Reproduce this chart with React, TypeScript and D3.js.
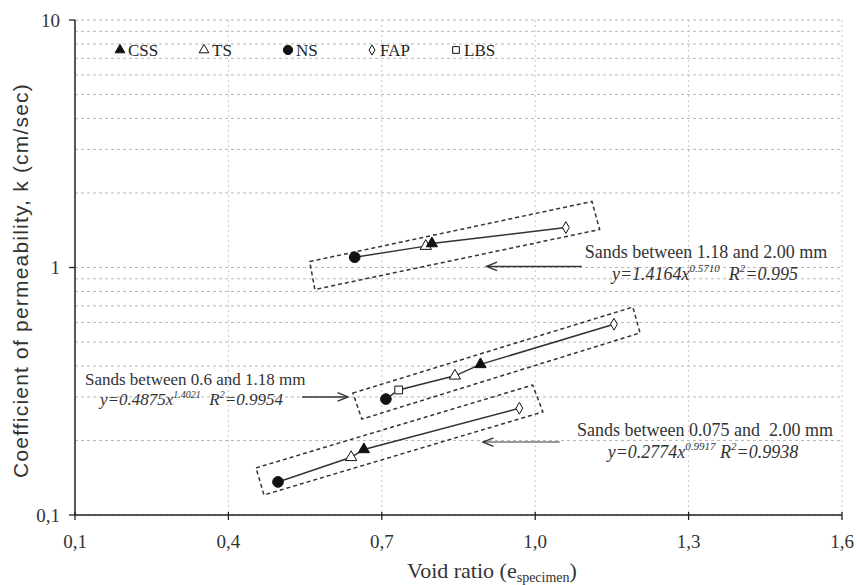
import React from 'react';
import * as d3 from 'd3';

// legend / sand types
const sandTypes = ['CSS', 'TS', 'NS', 'FAP', 'LBS'];

// Sands between 1.18 and 2.00 mm
const coarseSand = ['NS', 'TS', 'CSS', 'FAP'];
const coarseVoid = [0.647, 0.786, 0.798, 1.06];
const coarseK = [1.10, 1.22, 1.25, 1.45];

// Sands between 0.6 and 1.18 mm
const mediumSand = ['NS', 'LBS', 'TS', 'CSS', 'FAP'];
const mediumVoid = [0.708, 0.733, 0.843, 0.893, 1.154];
const mediumK = [0.294, 0.32, 0.365, 0.406, 0.59];

// Sands between 0.075 and 2.00 mm
const mixedSand = ['NS', 'TS', 'CSS', 'FAP'];
const mixedVoid = [0.497, 0.64, 0.665, 0.969];
const mixedK = [0.136, 0.171, 0.184, 0.27];

// dashed boxes (void ratio, k) corners
const coarseBox: [number, number][] = [[0.559, 1.057], [1.111, 1.848], [1.126, 1.424], [0.569, 0.815]];
const mediumBox: [number, number][] = [[0.6435, 0.311], [1.191, 0.692], [1.205, 0.544], [0.661, 0.244]];
const mixedBox: [number, number][] = [[0.454, 0.155], [0.995, 0.335], [1.015, 0.261], [0.4695, 0.1205]];

// arrows (from -> to) in data units
const arrows: [number, number, number, number, string][] = [
    [1.091, 1.01, 0.907, 1.01, '#333'],
    [0.544, 0.30, 0.632, 0.30, '#333'],
    [1.048, 0.197, 0.90, 0.197, '#777']
];

const xTicks = [0.1, 0.4, 0.7, 1.0, 1.3, 1.6];
const yMajor = [0.1, 1, 10];

const fmt = (v: number) => v.toFixed(1).replace('.', ',');

const width = 857;
const height = 585;
const margin = { top: 20, right: 15, bottom: 70, left: 75 };

const symbolFor = (s: string) => {
    switch (s) {
        case 'CSS': return { type: d3.symbolTriangle, size: 55, fill: '#111' };
        case 'TS': return { type: d3.symbolTriangle, size: 55, fill: '#fff' };
        case 'NS': return { type: d3.symbolCircle, size: 90, fill: '#111' };
        case 'FAP': return { type: d3.symbolDiamond, size: 40, fill: '#fff' };
        default: return { type: d3.symbolSquare, size: 60, fill: '#fff' };
    }
};

const App: React.FC = () => {
    const x = d3.scaleLinear().domain([0.1, 1.6]).range([margin.left, width - margin.right]);
    const y = d3.scaleLog().domain([0.1, 10]).range([height - margin.bottom, margin.top]);

    const minor: number[] = [];
    [0.1, 1].forEach(d => {
        for (let i = 2; i <= 9; i++) minor.push(+(d * i).toFixed(2));
    });

    const line = d3.line<[number, number]>()
        .x(d => x(d[0]))
        .y(d => y(d[1]));

    const groups = [
        { sand: coarseSand, ev: coarseVoid, k: coarseK, box: coarseBox },
        { sand: mediumSand, ev: mediumVoid, k: mediumK, box: mediumBox },
        { sand: mixedSand, ev: mixedVoid, k: mixedK, box: mixedBox }
    ];

    const serif = '"Liberation Serif", "Times New Roman", serif';
    const sans = '"Liberation Sans", Arial, sans-serif';

    return (
        <svg width={width} height={height} style={{ position: 'absolute', left: 0, top: 0, background: '#fff' }}
            fontFamily={serif}>
            <defs>
                <marker id="arr" viewBox="0 0 10 10" refX="9" refY="5" markerWidth="9" markerHeight="7" orient="auto">
                    <path d="M0,1 L10,5 L0,9" fill="none" stroke="#333" strokeWidth="1.3" />
                </marker>
            </defs>

            {/* grid */}
            {minor.concat(yMajor).map(v => (
                <line key={'h' + v} x1={x(0.1)} x2={x(1.6)} y1={y(v)} y2={y(v)}
                    stroke="#b8b8b8" strokeWidth={1} strokeDasharray="3,3" />
            ))}
            {xTicks.slice(1).map(v => (
                <line key={'v' + v} x1={x(v)} x2={x(v)} y1={y(10)} y2={y(0.1)}
                    stroke="#c8c8c8" strokeWidth={1} strokeDasharray="2,3" />
            ))}

            {/* axes */}
            <line x1={x(0.1)} x2={x(0.1)} y1={y(10)} y2={y(0.1)} stroke="#222" strokeWidth={1.5} />
            <line x1={x(0.1)} x2={x(1.6)} y1={y(0.1)} y2={y(0.1)} stroke="#222" strokeWidth={1.5} />
            {yMajor.map(v => (
                <g key={'yt' + v}>
                    <line x1={x(0.1) - 6} x2={x(0.1)} y1={y(v)} y2={y(v)} stroke="#222" strokeWidth={1.3} />
                    <text x={x(0.1) - 15} y={y(v)} dy="0.35em" textAnchor="end" fontSize={19} fill="#333">
                        {v === 0.1 ? '0,1' : String(v)}
                    </text>
                </g>
            ))}
            {xTicks.map(v => (
                <g key={'xt' + v}>
                    <line x1={x(v)} x2={x(v)} y1={y(0.1) - 3} y2={y(0.1) + 5} stroke="#222" strokeWidth={1.3} />
                    <text x={x(v)} y={y(0.1) + 33} textAnchor="middle" fontSize={19} fill="#333">{fmt(v)}</text>
                </g>
            ))}

            {/* axis titles */}
            <text transform={`translate(28,${(y(10) + y(0.1)) / 2 + 13}) rotate(-90)`} textAnchor="middle"
                fontFamily={sans} fontSize={21} letterSpacing={1.2} fill="#333">
                Coefficient of permeability, k (cm/sec)
            </text>
            <text x={492} y={578} textAnchor="middle" fontSize={22} fill="#333">
                Void ratio (e<tspan fontSize={14} dy={4}>specimen</tspan><tspan dy={-4}>)</tspan>
            </text>

            {/* boxes */}
            {groups.map((g, i) => (
                <path key={'box' + i} d={(line(g.box) || '') + 'Z'} fill="none" stroke="#333"
                    strokeWidth={1.5} strokeDasharray="4,3" />
            ))}

            {/* lines */}
            {groups.map((g, i) => (
                <path key={'ln' + i} d={line(g.ev.map((e, j) => [e, g.k[j]] as [number, number])) || ''}
                    fill="none" stroke="#333" strokeWidth={1.5} />
            ))}

            {/* points */}
            {groups.map((g, i) => g.ev.map((e, j) => {
                const s = symbolFor(g.sand[j]);
                return (
                    <path key={`p${i}-${j}`} transform={`translate(${x(e)},${y(g.k[j])})`}
                        d={d3.symbol().type(s.type).size(s.size)() || ''}
                        fill={s.fill} stroke="#111" strokeWidth={1} />
                );
            }))}

            {/* arrows */}
            {arrows.map((a, i) => (
                <line key={'ar' + i} x1={x(a[0])} y1={y(a[1])} x2={x(a[2])} y2={y(a[3])}
                    stroke={a[4]} strokeWidth={1.5} markerEnd="url(#arr)" />
            ))}

            {/* annotations */}
            <text x={706} y={258} textAnchor="middle" fontSize={18} fill="#333">Sands between 1.18 and 2.00 mm</text>
            <text x={705} y={280} textAnchor="middle" fontSize={18} fontStyle="italic" fill="#333">
                y=1.4164x<tspan fontSize={11} dy={-8}>0.5710</tspan><tspan dy={8}>{'\u00a0\u00a0'}R</tspan>
                <tspan fontSize={11} dy={-8}>2</tspan><tspan dy={8}>=0.995</tspan>
            </text>

            <text x={85} y={385} fontSize={17} fill="#333">Sands between 0.6 and 1.18 mm</text>
            <text x={100} y={405} fontSize={17} fontStyle="italic" fill="#333">
                y=0.4875x<tspan fontSize={10} dy={-7}>1.4021</tspan><tspan dy={7}>{'\u00a0\u00a0'}R</tspan>
                <tspan fontSize={10} dy={-7}>2</tspan><tspan dy={7}>=0.9954</tspan>
            </text>

            <text x={705} y={436} textAnchor="middle" fontSize={18} fill="#333">
                {'Sands between 0.075 and\u00a0\u00a02.00 mm'}
            </text>
            <text x={703} y={458} textAnchor="middle" fontSize={18} fontStyle="italic" fill="#333">
                y=0.2774x<tspan fontSize={11} dy={-8}>0.9917</tspan><tspan dy={8}>{'\u00a0'}R</tspan>
                <tspan fontSize={11} dy={-8}>2</tspan><tspan dy={8}>=0.9938</tspan>
            </text>

            {/* legend */}
            {sandTypes.map((s, i) => {
                const sym = symbolFor(s);
                const lx = 120 + i * 84;
                return (
                    <g key={'lg' + s} transform={`translate(${lx},50)`}>
                        <path d={d3.symbol().type(sym.type).size(sym.size * 0.75)() || ''}
                            fill={sym.fill} stroke="#111" strokeWidth={1} />
                        <text x={8} y={0} dy="0.35em" fontSize={17} fill="#222">{s}</text>
                    </g>
                );
            })}
        </svg>
    );
};

export default App;
